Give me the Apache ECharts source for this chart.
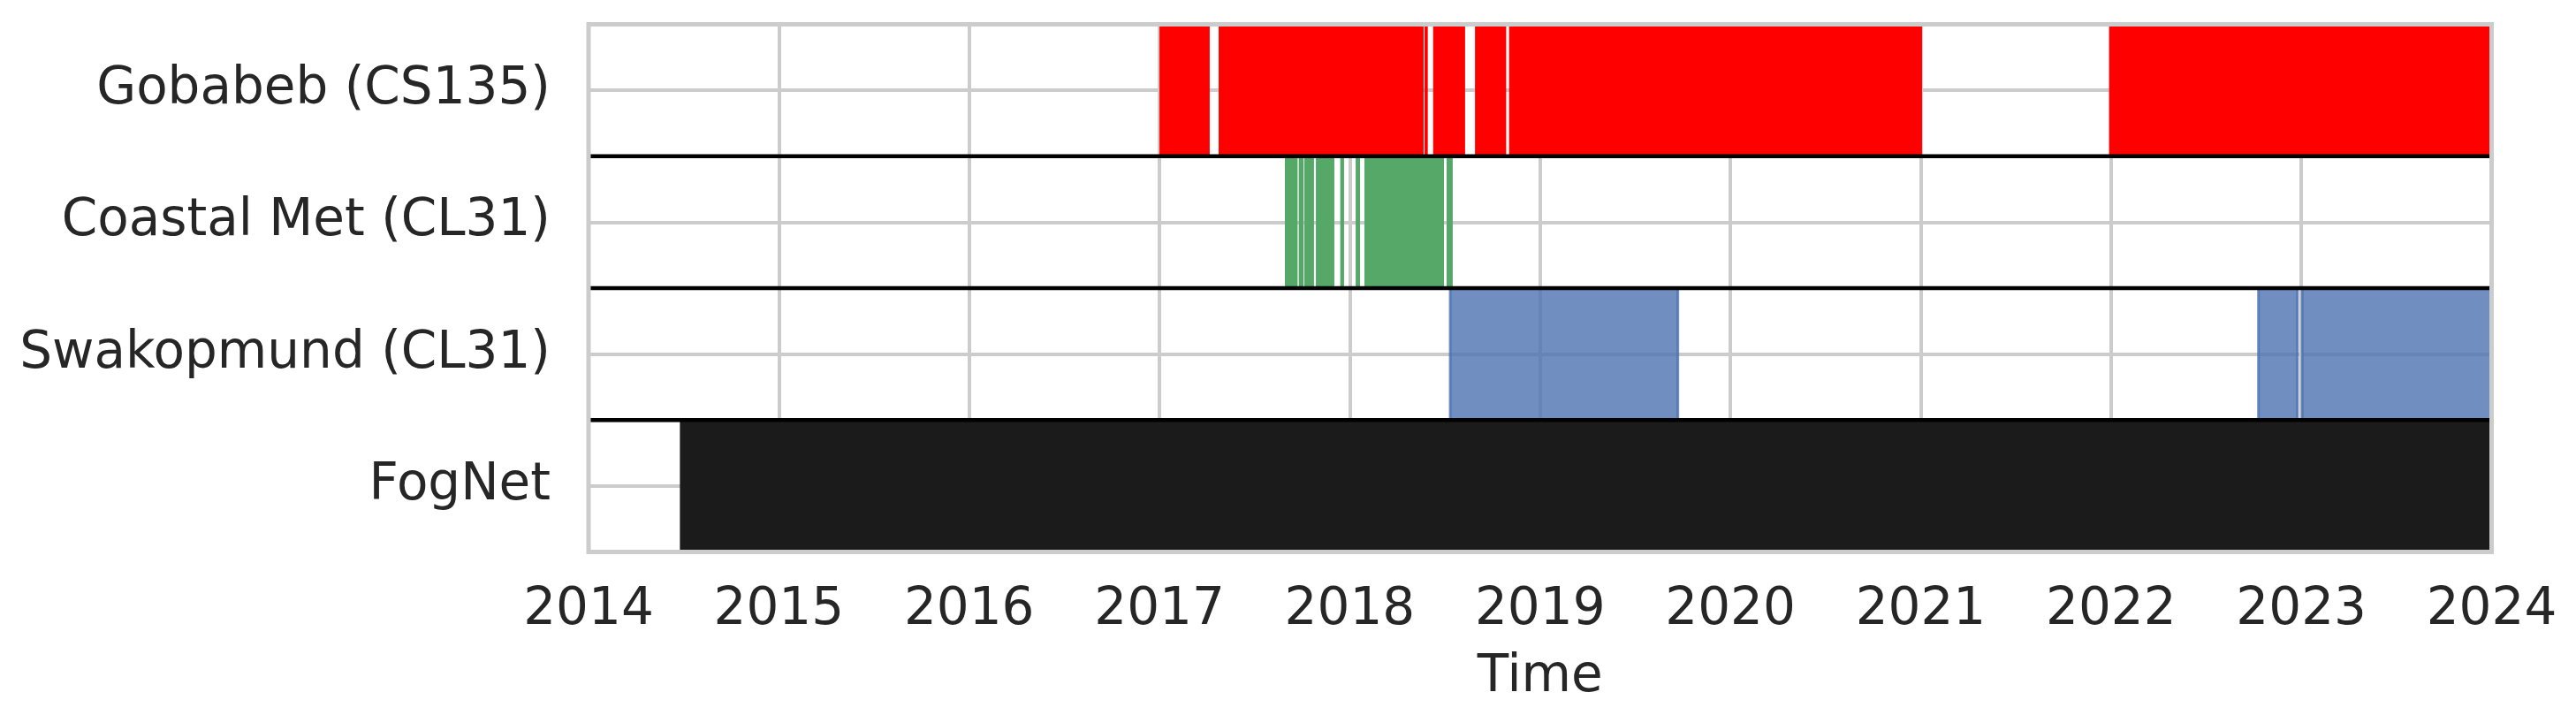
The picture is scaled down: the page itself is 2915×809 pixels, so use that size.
<!DOCTYPE html>
<html>
<head>
<meta charset="utf-8">
<script src="https://cdn.jsdelivr.net/npm/echarts@6/dist/echarts.min.js"></script>
<style>
    html, body { margin: 0; padding: 0; background: #fff; }
    #chart { width: 2915px; height: 809px; }
</style>
</head>
<body>
<div id="chart"></div>
<script>
// rows, top to bottom
var stations = ['Gobabeb (CS135)', 'Coastal Met (CL31)', 'Swakopmund (CL31)', 'FogNet'];

// axis range (years)
var xMin = 2014;
var xMax = 2024;

// periods with data, [start, end] in decimal years
var gobabebPeriods = [
    [2017.0, 2017.264], [2017.311, 2018.388], [2018.393, 2018.410],
    [2018.438, 2018.606], [2018.658, 2018.822], [2018.837, 2021.007],
    [2021.99, 2024.0]
];
var coastalPeriods = [
    [2017.659, 2017.726], [2017.732, 2017.757], [2017.761, 2017.812],
    [2017.822, 2017.919], [2017.950, 2017.970], [2018.031, 2018.054],
    [2018.077, 2018.495], [2018.509, 2018.541]
];
var swakopmundPeriods = [
    [2018.528, 2019.724], [2022.775, 2022.98], [2023.005, 2024.0]
];
var fognetPeriods = [
    [2014.48, 2024.0]
];

var rowStyles = [
    { fill: '#ff0000' },
    { fill: '#55a868' },
    { fill: 'rgba(76,114,176,0.8)', stroke: 'rgba(76,114,176,0.8)', lineWidth: 3 },
    { fill: '#1b1b1b' }
];
var allPeriods = [gobabebPeriods, coastalPeriods, swakopmundPeriods, fognetPeriods];

function renderChart(dom) {
    if (!dom) return;
    var myChart = echarts.init(dom);
    var textColor = '#262626';
    var font = 'DejaVu Sans';

    function spanItem(style) {
        return function (params, api) {
            var row = api.value(2);
            var a = api.coord([api.value(0), row]);
            var b = api.coord([api.value(1), row + 1]);
            return {
                type: 'rect',
                shape: {
                    x: a[0],
                    y: Math.min(a[1], b[1]),
                    width: b[0] - a[0],
                    height: Math.abs(b[1] - a[1])
                },
                style: {
                    fill: style.fill,
                    stroke: style.stroke || null,
                    lineWidth: style.lineWidth || 0
                }
            };
        };
    }

    var series = [];
    allPeriods.forEach(function (periods, i) {
        series.push({
            name: stations[i],
            type: 'custom',
            z: 2,
            silent: true,
            renderItem: spanItem(rowStyles[i]),
            encode: { x: [0, 1], y: 2 },
            data: periods.map(function (p) { return [p[0], p[1], i]; })
        });
    });

    // black lines between rows
    var edges = [];
    for (var r = 1; r < stations.length; r++) edges.push([xMin, xMax, r]);
    series.push({
        type: 'custom',
        z: 3,
        silent: true,
        encode: { x: [0, 1], y: 2 },
        renderItem: function (params, api) {
            var p0 = api.coord([api.value(0), api.value(2)]);
            var p1 = api.coord([api.value(1), api.value(2)]);
            return {
                type: 'line',
                shape: { x1: p0[0], y1: p0[1], x2: p1[0], y2: p1[1] },
                style: { stroke: '#000', lineWidth: 4.5 }
            };
        },
        data: edges
    });

    // frame on top of everything
    series.push({
        type: 'custom',
        z: 4,
        silent: true,
        encode: { x: [0, 1], y: 2 },
        renderItem: function (params) {
            var cs = params.coordSys;
            return {
                type: 'rect',
                shape: { x: cs.x, y: cs.y, width: cs.width, height: cs.height },
                style: { fill: null, stroke: '#cccccc', lineWidth: 5 }
            };
        },
        data: [[xMin, xMax, 0]]
    });

    var option = {
        animation: false,
        backgroundColor: '#fff',
        grid: {
            left: 666,
            right: 95.5,
            top: 27.5,
            bottom: 184.5
        },
        xAxis: {
            type: 'value',
            min: xMin,
            max: xMax,
            interval: 1,
            name: 'Time',
            nameLocation: 'middle',
            nameGap: 113,
            nameTextStyle: { color: textColor, fontSize: 58, fontFamily: font },
            axisLine: { show: false },
            axisTick: { show: false },
            axisLabel: {
                color: textColor,
                fontSize: 58,
                fontFamily: font,
                margin: 37,
                formatter: function (v) { return String(v); }
            },
            splitLine: { show: true, lineStyle: { color: '#cccccc', width: 4 } }
        },
        yAxis: {
            type: 'value',
            inverse: true,
            min: 0,
            max: stations.length,
            interval: 0.5,
            axisLine: { show: false },
            axisTick: { show: false },
            axisLabel: {
                color: textColor,
                fontSize: 58,
                fontFamily: font,
                margin: 43,
                formatter: function (v) {
                    var i = v - 0.5;
                    if (Number.isInteger(i) && stations[i]) return stations[i];
                    return '';
                }
            },
            splitLine: { show: true, lineStyle: { color: '#cccccc', width: 4 } }
        },
        series: series
    };

    option && myChart.setOption(option);
}

renderChart(document.getElementById('chart'));
</script>
</body>
</html>
